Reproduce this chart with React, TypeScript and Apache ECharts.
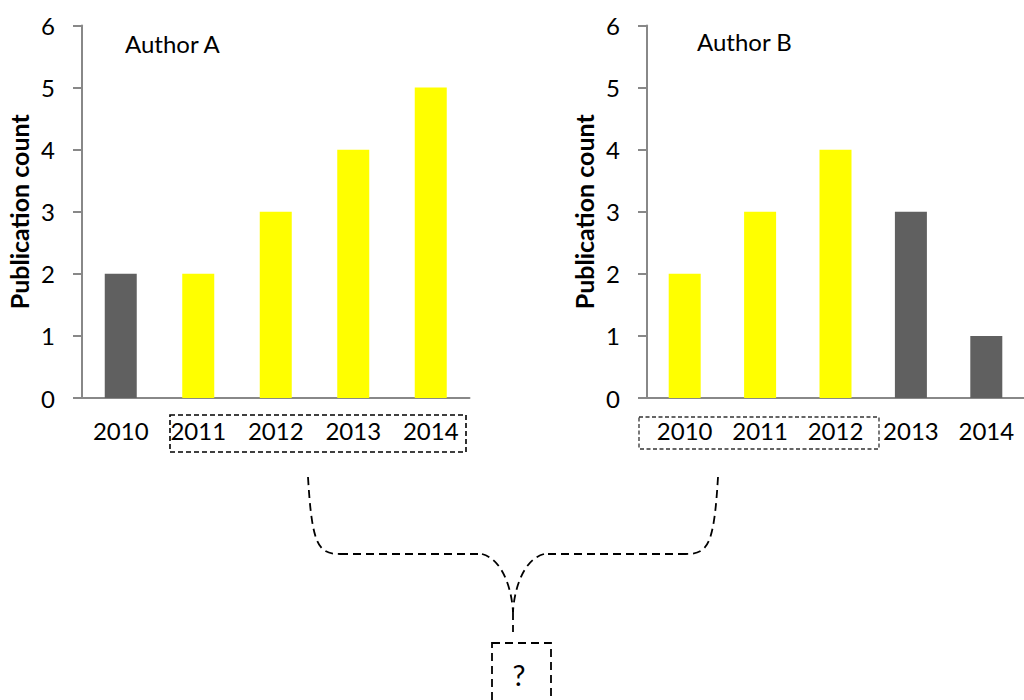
import React, { useEffect, useRef } from "react";
import * as echarts from "echarts";

// Publication counts per year for the two authors
const years = ["2010", "2011", "2012", "2013", "2014"];
const authorA = [2, 2, 3, 4, 5];
const authorB = [2, 3, 4, 3, 1];
// Years that fall inside each author's highlighted window
const windowA = [false, true, true, true, true];
const windowB = [true, true, true, false, false];
const yTicks = { min: 0, max: 6, interval: 1 };

const HIGHLIGHT = "#FFFF00";
const PLAIN = "#606060";
const AXIS = "#888888";
const FONT = "Lato, 'Open Sans', sans-serif";

const colored = (values: number[], flags: boolean[]) =>
  values.map((v, i) => ({ value: v, itemStyle: { color: flags[i] ? HIGHLIGHT : PLAIN } }));

const dashed = { stroke: "#000", lineWidth: 1.8, lineDash: [8, 5], fill: null };

export default function App() {
  const ref = useRef<HTMLDivElement>(null);

  useEffect(() => {
    if (!ref.current) return;
    const chart = echarts.init(ref.current, null, { renderer: "svg" });

    const xAxisBase = {
      type: "category" as const,
      data: years,
      axisLine: { lineStyle: { color: AXIS, width: 2 } },
      axisTick: { length: 9, lineStyle: { color: AXIS, width: 2 } },
      axisLabel: { color: "#000", fontSize: 24, fontFamily: FONT, margin: 20 },
    };
    const yAxisBase = {
      type: "value" as const,
      ...yTicks,
      name: "Publication count",
      nameLocation: "middle" as const,
      nameRotate: 90,
      nameGap: 51,
      nameTextStyle: { color: "#000", fontSize: 25, fontWeight: "bold" as const, fontFamily: FONT },
      axisLine: { show: true, lineStyle: { color: AXIS, width: 2 } },
      axisTick: { show: true, length: 9, lineStyle: { color: AXIS, width: 2 } },
      axisLabel: { color: "#000", fontSize: 24, fontFamily: FONT, margin: 27 },
      splitLine: { show: false },
    };

    chart.setOption({
      animation: false,
      backgroundColor: "#fff",
      grid: [
        { left: 82, top: 25.5, width: 387.5, height: 372.5 },
        { left: 647, top: 25.5, width: 388, height: 372.5 },
      ],
      xAxis: [
        { ...xAxisBase, gridIndex: 0 },
        { ...xAxisBase, gridIndex: 1 },
      ],
      yAxis: [
        { ...yAxisBase, gridIndex: 0 },
        { ...yAxisBase, gridIndex: 1 },
      ],
      series: [
        { type: "bar", xAxisIndex: 0, yAxisIndex: 0, barWidth: 32, data: colored(authorA, windowA) },
        { type: "bar", xAxisIndex: 1, yAxisIndex: 1, barWidth: 32, data: colored(authorB, windowB) },
      ],
      graphic: [
        { type: "text", left: 125, top: 31, style: { text: "Author A", fontSize: 24, fontFamily: FONT, fill: "#000" } },
        { type: "text", left: 697, top: 29, style: { text: "Author B", fontSize: 24, fontFamily: FONT, fill: "#000" } },
        // highlighted year windows under each axis
        { type: "rect", shape: { x: 170, y: 415, width: 296, height: 37 }, style: { stroke: "#000", lineWidth: 1.6, lineDash: [5, 3], fill: null } },
        { type: "rect", shape: { x: 639, y: 417, width: 240, height: 32 }, style: { stroke: "#333", lineWidth: 1.3, lineDash: [4, 2.5], fill: null } },
        // merging connectors
        { type: "bezierCurve", shape: { x1: 308, y1: 477, cpx1: 312, cpy1: 545, cpx2: 318, cpy2: 554, x2: 340, y2: 554 }, style: dashed },
        { type: "line", shape: { x1: 340, y1: 554, x2: 482, y2: 554 }, style: dashed },
        { type: "bezierCurve", shape: { x1: 482, y1: 554, cpx1: 504, cpy1: 560, cpx2: 512, cpy2: 592, x2: 513, y2: 612 }, style: dashed },
        { type: "bezierCurve", shape: { x1: 718, y1: 477, cpx1: 714, cpy1: 545, cpx2: 708, cpy2: 554, x2: 686, y2: 554 }, style: dashed },
        { type: "line", shape: { x1: 686, y1: 554, x2: 544, y2: 554 }, style: dashed },
        { type: "bezierCurve", shape: { x1: 544, y1: 554, cpx1: 522, cpy1: 560, cpx2: 514, cpy2: 592, x2: 513, y2: 612 }, style: dashed },
        { type: "line", shape: { x1: 513, y1: 612, x2: 513, y2: 632 }, style: dashed },
        // result box
        { type: "rect", shape: { x: 492, y: 643, width: 59, height: 80 }, style: { stroke: "#000", lineWidth: 1.8, lineDash: [8, 5], fill: null } },
        { type: "text", x: 519, y: 674, style: { text: "?", fontSize: 29, fontFamily: FONT, fill: "#000", align: "center", verticalAlign: "middle" } },
      ],
    });

    return () => chart.dispose();
  }, []);

  return <div ref={ref} style={{ width: 1024, height: 700, position: "absolute", left: 0, top: 0 }} />;
}
